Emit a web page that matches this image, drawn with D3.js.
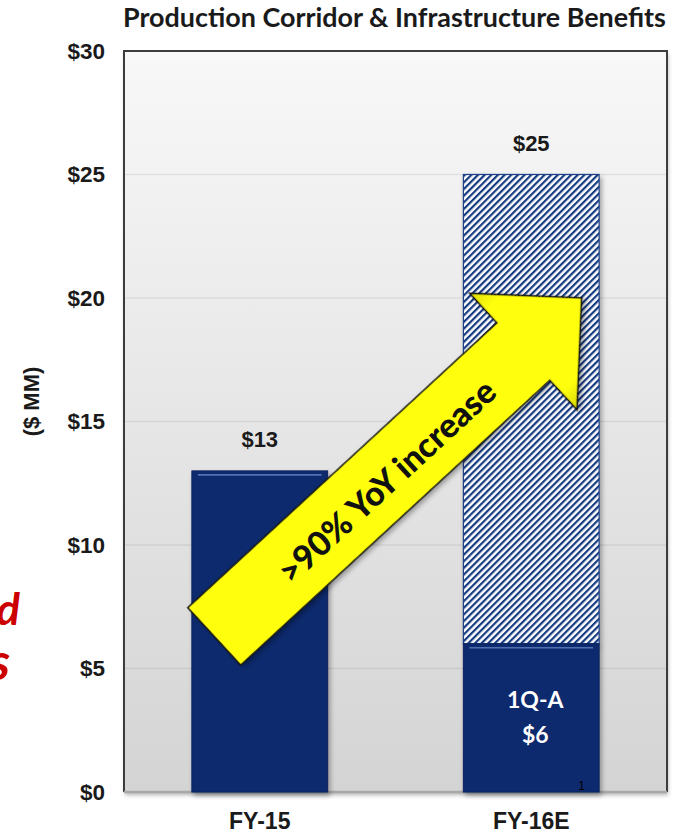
<!DOCTYPE html>
<html>
<head>
<meta charset="utf-8">
<script src="https://cdn.jsdelivr.net/npm/d3@7/dist/d3.min.js"></script>
<style>
  html, body { margin: 0; padding: 0; background: #ffffff; }
  svg { display: block; }
</style>
</head>
<body>
<svg id="chart" width="679" height="836"></svg>
<script>
// ---- data ----
const categories = ["FY-15", "FY-16E"];
const actualValues = [13, 6];          // solid navy segments
const totalValues = [13, 25];          // full bar height (estimate hatched above actual)
const totalLabels = ["$13", "$25"];
const actualInsideLabel = ["1Q-A", "$6"];
const yTicks = [0, 5, 10, 15, 20, 25, 30];
const yTickLabels = ["$0", "$5", "$10", "$15", "$20", "$25", "$30"];
const titleText = "Production Corridor & Infrastructure Benefits";
const yAxisTitle = "($ MM)";
const arrowText = ">90% YoY increase";
// arrow runs from the FY-15 bar (value 6.3) up to the FY-16E bar (value 20)
const arrowFrom = { cat: "FY-15", frac: 0.165, value: 6.3 };
const arrowTo = { cat: "FY-16E", frac: 0.87, value: 20 };

// ---- layout ----
const svg = d3.select("#chart");
const plot = { left: 124, right: 667, top: 51, bottom: 792 };
const navy = "#0a2a6e";

const x = d3.scaleBand().domain(categories)
  .range([plot.left, plot.right]).paddingInner(0.5).paddingOuter(0.25);
const y = d3.scaleLinear().domain([0, 30]).range([plot.bottom, plot.top]);

const defs = svg.append("defs");

const bg = defs.append("linearGradient").attr("id", "bgGrad")
  .attr("x1", 0).attr("y1", 0).attr("x2", 0).attr("y2", 1);
bg.append("stop").attr("offset", "0%").attr("stop-color", "#f8f8f8");
bg.append("stop").attr("offset", "100%").attr("stop-color", "#d4d4d4");

const hatch = defs.append("pattern").attr("id", "hatch")
  .attr("patternUnits", "userSpaceOnUse")
  .attr("width", 4.7).attr("height", 4.7)
  .attr("patternTransform", "rotate(45)");
hatch.append("rect").attr("width", 4.7).attr("height", 4.7).attr("fill", "#ffffff");
hatch.append("rect").attr("x", 0).attr("width", 2.2).attr("height", 4.7).attr("fill", "#153a82");

const yellowGrad = defs.append("linearGradient").attr("id", "yellowGrad")
  .attr("x1", 0).attr("y1", 0).attr("x2", 0).attr("y2", 1);
yellowGrad.append("stop").attr("offset", "0%").attr("stop-color", "#dede00");
yellowGrad.append("stop").attr("offset", "15%").attr("stop-color", "#ffff10");
yellowGrad.append("stop").attr("offset", "85%").attr("stop-color", "#ffff10");
yellowGrad.append("stop").attr("offset", "100%").attr("stop-color", "#d8d800");

const shadow = defs.append("filter").attr("id", "shadow")
  .attr("x", "-10%").attr("y", "-10%").attr("width", "130%").attr("height", "130%");
shadow.append("feDropShadow").attr("dx", 2).attr("dy", 3)
  .attr("stdDeviation", 2.5).attr("flood-color", "#000").attr("flood-opacity", 0.35);

const softShadow = defs.append("filter").attr("id", "softShadow")
  .attr("x", "-5%").attr("y", "-5%").attr("width", "115%").attr("height", "115%");
softShadow.append("feDropShadow").attr("dx", 1).attr("dy", 3)
  .attr("stdDeviation", 2).attr("flood-color", "#000").attr("flood-opacity", 0.3);

// ---- plot area ----
svg.append("rect")
  .attr("x", plot.left).attr("y", plot.top)
  .attr("width", plot.right - plot.left).attr("height", plot.bottom - plot.top)
  .attr("fill", "url(#bgGrad)")
  .attr("filter", "url(#softShadow)");

// gridlines
svg.append("g").selectAll("line").data(yTicks.filter(t => t > 0 && t < 30)).join("line")
  .attr("x1", plot.left).attr("x2", plot.right)
  .attr("y1", d => y(d)).attr("y2", d => y(d))
  .attr("stroke", "#000").attr("stroke-opacity", 0.07).attr("stroke-width", 1.5);

// frame: dark left/top/right, light bottom baseline
svg.append("path")
  .attr("d", `M${plot.left},${plot.bottom}V${plot.top}H${plot.right}V${plot.bottom}`)
  .attr("fill", "none").attr("stroke", "#3c3c3c").attr("stroke-width", 2);
svg.append("line")
  .attr("x1", plot.left).attr("x2", plot.right)
  .attr("y1", plot.bottom).attr("y2", plot.bottom)
  .attr("stroke", "#a8a8a8").attr("stroke-width", 2.5);

// ---- bars ----
const bars = svg.append("g");
// hatched estimate segment (from actual up to total)
bars.selectAll("rect.est").data(categories.map((c, i) => ({ c, lo: actualValues[i], hi: totalValues[i] }))
  .filter(d => d.hi > d.lo)).join("rect")
  .attr("class", "est")
  .attr("x", d => x(d.c)).attr("width", x.bandwidth())
  .attr("y", d => y(d.hi)).attr("height", d => y(d.lo) - y(d.hi))
  .attr("fill", "url(#hatch)").attr("stroke", "#1d3f85").attr("stroke-width", 1.2)
  .attr("filter", "url(#shadow)");

// solid actual segment
bars.selectAll("rect.act").data(categories.map((c, i) => ({ c, v: actualValues[i] }))).join("rect")
  .attr("class", "act")
  .attr("x", d => x(d.c)).attr("width", x.bandwidth())
  .attr("y", d => y(d.v)).attr("height", d => y(0) - y(d.v))
  .attr("fill", navy).attr("stroke", "#08225c").attr("stroke-width", 1)
  .attr("filter", "url(#shadow)");

// bevel highlight along top of solid bars
bars.selectAll("line.hl").data(categories.map((c, i) => ({ c, v: actualValues[i] }))).join("line")
  .attr("class", "hl")
  .attr("x1", d => x(d.c) + 6).attr("x2", d => x(d.c) + x.bandwidth() - 6)
  .attr("y1", d => y(d.v) + 4).attr("y2", d => y(d.v) + 4)
  .attr("stroke", "#6f8fcf").attr("stroke-width", 1.6).attr("stroke-opacity", 0.7);

// total labels above bars
svg.append("g").selectAll("text").data(categories.map((c, i) => ({ c, v: totalValues[i], t: totalLabels[i] }))).join("text")
  .attr("x", d => x(d.c) + x.bandwidth() / 2)
  .attr("y", d => y(d.v) - 24)
  .attr("text-anchor", "middle")
  .attr("font-family", "'Liberation Sans', Arial, sans-serif")
  .attr("font-weight", "bold").attr("font-size", 22).attr("fill", "#1a1a1a")
  .text(d => d.t);

// label inside FY-16E actual segment
const insideCat = categories[1];
const insideG = svg.append("g")
  .attr("font-family", "Lato, 'Open Sans', sans-serif")
  .attr("font-weight", "bold").attr("font-size", 23).attr("fill", "#ffffff")
  .attr("text-anchor", "middle");
actualInsideLabel.forEach((t, i) => {
  insideG.append("text")
    .attr("x", x(insideCat) + x.bandwidth() / 2 + 4)
    .attr("y", y(actualValues[1] / 2) + (i === 0 ? -10 : 25))
    .text(t);
});

// footnote marker at base of FY-16E bar
svg.append("text")
  .attr("x", x(insideCat) + x.bandwidth() * 0.87)
  .attr("y", plot.bottom - 2)
  .attr("font-family", "'Liberation Sans', Arial, sans-serif")
  .attr("font-size", 12).attr("fill", "#000").attr("text-anchor", "middle")
  .text("1");

// ---- axes ----
const yAxis = svg.append("g")
  .attr("transform", `translate(${plot.left - 19},0)`)
  .call(d3.axisLeft(y).tickValues(yTicks).tickSize(0).tickPadding(0)
    .tickFormat((d, i) => yTickLabels[i]));
yAxis.select(".domain").remove();
yAxis.selectAll("text")
  .attr("font-family", "'Liberation Sans', Arial, sans-serif")
  .attr("font-weight", "bold").attr("font-size", 22.5).attr("fill", "#1a1a1a");

const xAxis = svg.append("g")
  .attr("transform", `translate(0,${plot.bottom})`)
  .call(d3.axisBottom(x).tickSize(0).tickPadding(0));
xAxis.select(".domain").remove();
xAxis.selectAll("text")
  .attr("dy", 0).attr("y", 37)
  .attr("font-family", "'Liberation Sans', Arial, sans-serif")
  .attr("font-weight", "bold").attr("font-size", 23).attr("fill", "#1a1a1a");

// y axis title
svg.append("text")
  .attr("transform", `translate(39,${(plot.top + plot.bottom) / 2 - 20}) rotate(-90)`)
  .attr("text-anchor", "middle")
  .attr("font-family", "'Liberation Sans', Arial, sans-serif")
  .attr("font-weight", "bold").attr("font-size", 22).attr("fill", "#1a1a1a")
  .text(yAxisTitle);

// chart title, fitted across the plot width
const title = svg.append("text")
  .attr("x", (plot.left - 2 + plot.right) / 2).attr("y", 27)
  .attr("text-anchor", "middle")
  .attr("font-family", "Lato, 'Open Sans', sans-serif")
  .attr("font-weight", "bold").attr("font-size", 20).attr("fill", "#1a1a1a")
  .text(titleText);
{
  const w = title.node().getComputedTextLength();
  title.attr("font-size", 20 * 543 / w);
}

// ends of slide text at the left edge
svg.append("text").attr("x", 20).attr("y", 625).attr("text-anchor", "end")
  .attr("font-family", "Lato, 'Open Sans', sans-serif").attr("font-style", "italic")
  .attr("font-weight", "bold").attr("font-size", 44).attr("fill", "#cc0000")
  .text("d");
svg.append("text").attr("x", 10).attr("y", 680).attr("text-anchor", "end")
  .attr("font-family", "Lato, 'Open Sans', sans-serif").attr("font-style", "italic")
  .attr("font-weight", "bold").attr("font-size", 52).attr("fill", "#cc0000")
  .text("s");

// ---- growth arrow ----
const p0 = [x(arrowFrom.cat) + x.bandwidth() * arrowFrom.frac, y(arrowFrom.value)];
const p1 = [x(arrowTo.cat) + x.bandwidth() * arrowTo.frac, y(arrowTo.value)];
const dx = p1[0] - p0[0], dy = p1[1] - p0[1];
const L = Math.hypot(dx, dy);
const ang = Math.atan2(dy, dx) * 180 / Math.PI;
const shaftHalf = 39, headHalf = 79, headLen = 79;
const arrowPts = [[0, -shaftHalf], [L - headLen, -shaftHalf], [L - headLen, -headHalf], [L, 0],
                  [L - headLen, headHalf], [L - headLen, shaftHalf], [0, shaftHalf]];
const arrowG = svg.append("g")
  .attr("transform", `translate(${p0[0]},${p0[1]}) rotate(${ang})`);
arrowG.append("path")
  .attr("d", d3.line()(arrowPts) + "Z")
  .attr("fill", "url(#yellowGrad)")
  .attr("stroke", "#111").attr("stroke-width", 1.6).attr("stroke-linejoin", "miter")
  .attr("filter", "url(#shadow)");
const at = arrowG.append("text")
  .attr("x", 232).attr("y", 2)
  .attr("text-anchor", "middle").attr("dominant-baseline", "central")
  .attr("font-family", "Lato, 'Open Sans', sans-serif")
  .attr("font-weight", "900").attr("font-size", 30).attr("fill", "#111")
  .text(arrowText);
{
  const w = at.node().getComputedTextLength();
  at.attr("font-size", 30 * 282 / w);
}
</script>
</body>
</html>
